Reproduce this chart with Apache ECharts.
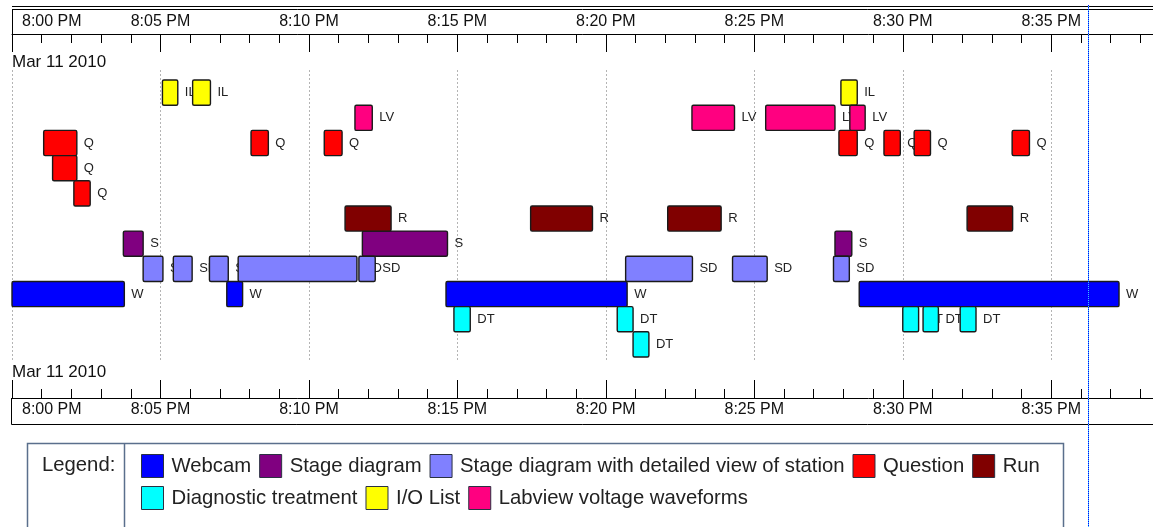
<!DOCTYPE html>
<html>
<head>
<meta charset="utf-8">
<script src="https://cdn.jsdelivr.net/npm/echarts@6/dist/echarts.min.js"></script>
<style>
  html, body { margin: 0; padding: 0; background: #fff; }
  #chart { width: 1153px; height: 527px; }
</style>
</head>
<body>
<div id="chart"></div>
<script>
// Session date and visible time window
const sessionDay = [2010, 2, 11];
const axisStart = '20:00:00';
const axisEnd = '20:39:00';
const cursorTime = '20:36:15';

// Swim lanes, top to bottom (overlapping items spill into the extra lanes)
const lanes = ['IL', 'LV', 'Q', 'Q2', 'Q3', 'R', 'S', 'SD', 'W', 'DT', 'DT2'];

// Activity types
const typeNames = ['Webcam', 'Stage diagram', 'Stage diagram with detailed view of station',
  'Question', 'Run', 'Diagnostic treatment', 'I/O List', 'Labview voltage waveforms'];
const typeCodes = ['W', 'S', 'SD', 'Q', 'R', 'DT', 'IL', 'LV'];
const typeColors = ['#0000ff', '#800080', '#8080ff', '#ff0000', '#800000', '#00ffff', '#ffff00', '#ff0080'];

// Events per type: [start, end, lane]
const webcam = [
  ['20:00:00', '20:03:47', 'W'],
  ['20:07:14', '20:07:46', 'W'],
  ['20:14:37', '20:20:43', 'W'],
  ['20:28:32', '20:37:17', 'W']
];
const stageDiagram = [
  ['20:03:45', '20:04:25', 'S'],
  ['20:11:48', '20:14:40', 'S'],
  ['20:27:43', '20:28:17', 'S']
];
const stageDetail = [
  ['20:04:25', '20:05:05', 'SD'],
  ['20:05:26', '20:06:04', 'SD'],
  ['20:06:39', '20:07:17', 'SD'],
  ['20:07:37', '20:11:37', 'SD'],
  ['20:11:41', '20:12:14', 'SD'],
  ['20:20:40', '20:22:55', 'SD'],
  ['20:24:16', '20:25:26', 'SD'],
  ['20:27:40', '20:28:12', 'SD']
];
const question = [
  ['20:01:04', '20:02:11', 'Q'],
  ['20:01:22', '20:02:11', 'Q2'],
  ['20:02:05', '20:02:38', 'Q3'],
  ['20:08:03', '20:08:38', 'Q'],
  ['20:10:31', '20:11:07', 'Q'],
  ['20:27:51', '20:28:28', 'Q'],
  ['20:29:22', '20:29:55', 'Q'],
  ['20:30:23', '20:30:56', 'Q'],
  ['20:33:41', '20:34:16', 'Q']
];
const run = [
  ['20:11:13', '20:12:46', 'R'],
  ['20:17:28', '20:19:33', 'R'],
  ['20:22:05', '20:23:53', 'R'],
  ['20:32:10', '20:33:42', 'R']
];
const diagnostic = [
  ['20:14:53', '20:15:26', 'DT'],
  ['20:20:23', '20:20:55', 'DT'],
  ['20:20:55', '20:21:27', 'DT2'],
  ['20:30:00', '20:30:32', 'DT'],
  ['20:30:41', '20:31:12', 'DT'],
  ['20:31:56', '20:32:28', 'DT']
];
const ioList = [
  ['20:05:04', '20:05:35', 'IL'],
  ['20:06:05', '20:06:41', 'IL'],
  ['20:27:55', '20:28:28', 'IL']
];
const labview = [
  ['20:11:33', '20:12:08', 'LV'],
  ['20:22:54', '20:24:20', 'LV'],
  ['20:25:23', '20:27:43', 'LV'],
  ['20:28:13', '20:28:44', 'LV']
];

const eventsByType = [webcam, stageDiagram, stageDetail, question, run, diagnostic, ioList, labview];

const FONT = "'Liberation Sans', Arial, sans-serif";
const MONTHS = ['Jan', 'Feb', 'Mar', 'Apr', 'May', 'Jun', 'Jul', 'Aug', 'Sep', 'Oct', 'Nov', 'Dec'];

function toTs(clock) {
  const [h, m, s] = clock.split(':').map(Number);
  return Date.UTC(sessionDay[0], sessionDay[1], sessionDay[2], h, m, s);
}
function clockLabel(ts) {
  const d = new Date(ts);
  const h = d.getUTCHours();
  const m = d.getUTCMinutes();
  const h12 = h % 12 === 0 ? 12 : h % 12;
  return h12 + ':' + String(m).padStart(2, '0') + ' ' + (h < 12 ? 'AM' : 'PM');
}
const dateText = MONTHS[sessionDay[1]] + ' ' + sessionDay[2] + ' ' + sessionDay[0];

const tMin = toTs(axisStart);
const tMax = toTs(axisEnd);
const FIVE_MIN = 5 * 60 * 1000;

function makeRenderer(code) {
  return function (params, api) {
    const lane = api.value(2);
    const p0 = api.coord([api.value(0), lane]);
    const p1 = api.coord([api.value(1), lane + 1]);
    const color = api.visual('color');
    return {
      type: 'group',
      children: [
        {
          type: 'rect',
          shape: { x: p0[0], y: p0[1], width: p1[0] - p0[0], height: p1[1] - p0[1], r: 1.5 },
          style: { fill: color, stroke: '#1a1a1a', lineWidth: 1.4 }
        },
        {
          type: 'text',
          style: {
            x: p1[0] + 7, y: (p0[1] + p1[1]) / 2,
            text: code, fill: '#222', font: '13px ' + FONT,
            verticalAlign: 'middle', align: 'left'
          }
        }
      ]
    };
  };
}

const series = typeNames.map((name, i) => ({
  type: 'custom',
  name: name,
  xAxisIndex: 0,
  yAxisIndex: 0,
  itemStyle: { color: typeColors[i] },
  renderItem: makeRenderer(typeCodes[i]),
  encode: { x: [0, 1], y: 2 },
  emphasis: { disabled: true },
  silent: true,
  data: eventsByType[i].map(e => [toTs(e[0]), toTs(e[1]), lanes.indexOf(e[2])])
}));

function axisCommon(position, offset) {
  return {
    type: 'value',
    position: position,
    offset: offset,
    min: tMin,
    max: tMax,
    interval: FIVE_MIN,
    axisLine: { show: true, onZero: false, lineStyle: { color: '#000', width: 1 } },
    axisTick: { show: true, inside: true, length: 18, lineStyle: { color: '#000', width: 1 } },
    minorTick: { show: true, splitNumber: 5, length: 9, lineStyle: { color: '#000', width: 1 } },
    axisLabel: {
      show: true,
      margin: 12,
      verticalAlign: 'middle',
      color: '#111',
      fontSize: 16,
      fontFamily: FONT,
      showMaxLabel: false,
      alignMinLabel: 'left',
      formatter: v => (v === tMin ? '{first|' + clockLabel(v) + '}' : clockLabel(v)),
      rich: { first: { padding: [0, 0, 0, 10], fontSize: 16, fontFamily: FONT, color: '#111' } }
    },
    splitLine: { show: false }
  };
}

const topAxis = axisCommon('top', 36);
topAxis.splitLine = { show: true, lineStyle: { color: '#b4b4b4', type: [2, 2], width: 1 } };
const bottomAxis = axisCommon('bottom', 38);

const chart = echarts.init(document.getElementById('chart'), null, { renderer: 'canvas' });

const option = {
  animation: false,
  backgroundColor: '#fff',
  grid: { left: 12, right: -17, top: 70, bottom: 167, containLabel: false, outerBoundsMode: 'none' },
  xAxis: [topAxis, bottomAxis],
  yAxis: [{
    type: 'value', inverse: true, min: -0.4, max: 11.12, show: false
  }],
  legend: {
    left: 141, top: 454, width: 920,
    padding: 0,
    orient: 'horizontal',
    icon: 'rect',
    itemWidth: 22, itemHeight: 23, itemGap: 8,
    selectedMode: false,
    textStyle: { fontSize: 20.3, fontFamily: FONT, color: '#222', padding: [0, 0, 0, 3] },
    itemStyle: { borderColor: '#2a3142', borderWidth: 1 },
    data: typeNames
  },
  graphic: [
    // top header frame
    { type: 'line', shape: { x1: 12, y1: 6.5, x2: 1153, y2: 6.5 }, style: { stroke: '#000', lineWidth: 1.2 }, silent: true },
    { type: 'line', shape: { x1: 12, y1: 9.5, x2: 1153, y2: 9.5 }, style: { stroke: '#000', lineWidth: 1 }, silent: true },
    { type: 'line', shape: { x1: 12.5, y1: 9.5, x2: 12.5, y2: 34 }, style: { stroke: '#000', lineWidth: 1 }, silent: true },
    // bottom label frame
    { type: 'line', shape: { x1: 11.5, y1: 398, x2: 11.5, y2: 424.5 }, style: { stroke: '#000', lineWidth: 1 }, silent: true },
    { type: 'line', shape: { x1: 11.5, y1: 424.5, x2: 1153, y2: 424.5 }, style: { stroke: '#000', lineWidth: 1 }, silent: true },
    // date captions
    { type: 'text', left: 12, top: 54, style: { text: dateText, font: '17px ' + FONT, fill: '#111' }, silent: true },
    { type: 'text', left: 12, top: 364, style: { text: dateText, font: '17px ' + FONT, fill: '#111' }, silent: true },
    // legend frame
    { type: 'rect', shape: { x: 27.5, y: 443.5, width: 1036, height: 120 }, style: { fill: 'none', stroke: '#5a6f8c', lineWidth: 1.5 }, silent: true, z: -1 },
    { type: 'line', shape: { x1: 124.5, y1: 443.5, x2: 124.5, y2: 527 }, style: { stroke: '#5a6f8c', lineWidth: 1.5 }, silent: true },
    { type: 'text', left: 42, top: 455, style: { text: 'Legend:', font: '20.3px ' + FONT, fill: '#222' }, silent: true }
  ],
  series: series
};

chart.setOption(option);

// current-position marker spanning the whole view
const cursorX = Math.round(chart.convertToPixel({ xAxisIndex: 0 }, toTs(cursorTime))) + 0.5;
chart.setOption({
  graphic: option.graphic.concat([
    { type: 'line', shape: { x1: cursorX, y1: 5, x2: cursorX, y2: 527 }, style: { stroke: '#3cc8ff', lineWidth: 1 }, silent: true, z: 10 },
    { type: 'line', shape: { x1: cursorX, y1: 5, x2: cursorX, y2: 527 }, style: { stroke: '#0000ff', lineWidth: 1, lineDash: [1, 1] }, silent: true, z: 11 }
  ])
});
</script>
</body>
</html>
